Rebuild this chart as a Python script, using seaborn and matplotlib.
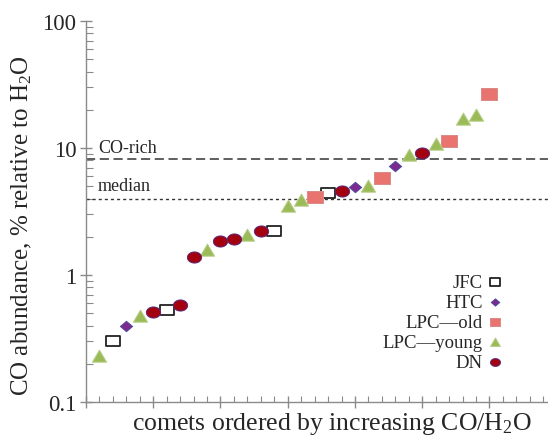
import numpy as np
import pandas as pd
import matplotlib
matplotlib.use("Agg")
import matplotlib.pyplot as plt
from matplotlib.path import Path
import matplotlib.ticker as mticker
import seaborn as sns

# ---- data ----
order = list(range(1, 31))
co_abundance = [0.23, 0.30, 0.40, 0.475, 0.51, 0.53, 0.58, 1.39, 1.57, 1.85,
                1.92, 2.07, 2.22, 2.22, 3.49, 3.92, 4.09, 4.40, 4.56, 4.96,
                5.05, 5.77, 7.26, 8.86, 9.08, 10.75, 11.4, 16.9, 18.2, 26.6]
comet_class = ["LPC—young", "JFC", "HTC", "LPC—young", "DN", "JFC", "DN", "DN", "LPC—young", "DN",
               "DN", "LPC—young", "DN", "JFC", "LPC—young", "LPC—young", "LPC—old", "JFC", "DN", "HTC",
               "LPC—young", "LPC—old", "HTC", "LPC—young", "DN", "LPC—young", "LPC—old", "LPC—young", "LPC—young", "LPC—old"]
legend_order = ["JFC", "HTC", "LPC—old", "LPC—young", "DN"]
co_rich_level = 8.2
median_level = 4.0
ytick_vals = [0.1, 1, 10, 100]
ytick_labels = ["0.1", "1", "10", "100"]

df = pd.DataFrame({"order": order, "co": co_abundance, "cls": comet_class})

sns.set_style("white")
plt.rcParams["font.family"] = ["Liberation Serif", "DejaVu Serif"]
plt.rcParams["mathtext.fontset"] = "custom"
plt.rcParams["mathtext.rm"] = "Liberation Serif"
plt.rcParams["mathtext.it"] = "Liberation Serif:italic"

# custom marker shapes
th = np.linspace(0, 2 * np.pi, 64)
ellipse = Path(np.c_[np.cos(th), 0.78 * np.sin(th)], closed=True)
rect = Path([(-1, -0.77), (1, -0.77), (1, 0.77), (-1, 0.77), (-1, -0.77)], closed=True)
tri = Path([(-1, -0.8), (1, -0.8), (0, 0.9), (-1, -0.8)], closed=True)
diam = Path([(0, 0.85), (1, 0), (0, -0.85), (-1, 0), (0, 0.85)], closed=True)

styles = {
    "JFC": dict(marker=rect, s=105, color="white", edgecolor="#222222", linewidth=1.3),
    "HTC": dict(marker=diam, s=80, color="#7B2A8E", edgecolor="#4A4FA0", linewidth=0.6),
    "LPC—old": dict(marker=rect, s=118, color="#E8736F", edgecolor="#D98A86", linewidth=0.7),
    "LPC—young": dict(marker=tri, s=105, color="#9BBB59", edgecolor="#B7CF86", linewidth=0.7),
    "DN": dict(marker=ellipse, s=105, color="#A30010", edgecolor="#5A2A7A", linewidth=0.7),
}

W, H = 548, 439
fig = plt.figure(figsize=(W / 100, H / 100), dpi=100)
ax = fig.add_axes([86 / W, 1 - 403 / H, 1 - 86 / W, (403 - 22) / H])

for cls in legend_order:
    sub = df[df["cls"] == cls]
    sns.scatterplot(data=sub, x="order", y="co", ax=ax, label=cls, zorder=3, **styles[cls])

ax.set_yscale("log")
ax.set_ylim(0.1, 100)
ax.set_xlim(0, 34.35)

ax.axhline(co_rich_level, color="#333333", lw=1.1, ls=(0, (6, 3)), zorder=2)
ax.axhline(median_level, color="#333333", lw=1.0, ls=(0, (2.2, 2.2)), zorder=2)
ax.annotate("CO-rich", xy=(0.9, co_rich_level), xytext=(0, 5), textcoords="offset points",
            fontsize=13, va="baseline", ha="left")
ax.annotate("median", xy=(0.9, median_level), xytext=(0, 6), textcoords="offset points",
            fontsize=13, va="baseline", ha="left")

gray = "#8a8a8a"
for sp in ["top", "right"]:
    ax.spines[sp].set_visible(False)
for sp in ["left", "bottom"]:
    ax.spines[sp].set_color(gray)
    ax.spines[sp].set_linewidth(1.0)

ax.set_yticks(ytick_vals)
ax.set_yticklabels(ytick_labels)
ax.yaxis.set_minor_locator(mticker.LogLocator(base=10, subs=np.arange(2, 10)))
ax.yaxis.set_minor_formatter(mticker.NullFormatter())
ax.xaxis.set_major_locator(mticker.MultipleLocator(5))
ax.xaxis.set_minor_locator(mticker.MultipleLocator(1))
ax.tick_params(axis="both", which="both", left=True, bottom=True)
ax.tick_params(axis="y", which="major", direction="inout", length=9, width=1, color=gray, labelsize=16.5, pad=2.5)
ax.tick_params(axis="y", which="minor", direction="in", length=5, width=0.8, color=gray)
ax.tick_params(axis="x", which="major", direction="inout", length=9, width=1, color=gray, labelbottom=False)
ax.tick_params(axis="x", which="minor", direction="in", length=4, width=0.8, color=gray)

ax.set_xlabel(r"comets ordered by increasing CO/H$_2$O", fontsize=18.5, va="top")
ax.xaxis.set_label_coords(0.532, -0.022)
ax.set_ylabel(r"CO abundance, % relative to H$_2$O", fontsize=18)
ax.yaxis.set_label_coords(-0.112, 0.467)

leg = ax.legend(loc="lower right", bbox_to_anchor=(0.9015, 0.081), frameon=False,
                markerfirst=False, fontsize=13.5, handletextpad=0.24, labelspacing=0.16,
                borderaxespad=0, borderpad=0, handlelength=0.8, markerscale=0.7)

fig.savefig("out.png", dpi=100)
